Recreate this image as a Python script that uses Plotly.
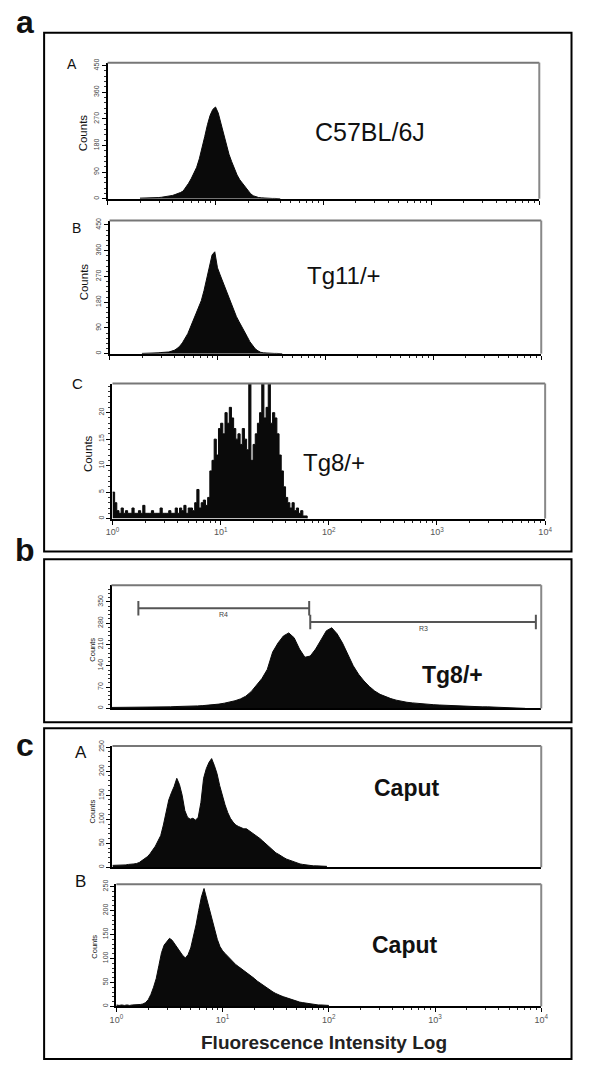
import numpy as np
import plotly.graph_objects as go

W, H = 600, 1066

# ---------------- data (log10 fluorescence bins, counts) ----------------
aA_start, aA_step = 0.3, 0.025
aA_counts = [2, 2, 3, 2, 3, 3, 4, 4, 5, 6, 7, 9, 11, 14, 17, 21, 26, 38, 52, 68,
             86, 106, 135, 168, 210, 250, 282, 302, 310, 290, 255, 215, 180, 150,
             125, 100, 80, 64, 52, 38, 26, 17, 10, 6, 4, 3, 2, 2, 1, 1, 1, 0, 0]

aB_start, aB_step = 0.3, 0.025
aB_counts = [1, 1, 2, 2, 2, 3, 3, 4, 4, 5, 6, 9, 12, 18, 26, 38, 52, 70, 93, 115,
             138, 160, 185, 220, 262, 305, 345, 356, 300, 275, 250, 232, 205, 180,
             155, 130, 112, 96, 78, 60, 42, 28, 17, 10, 5, 3, 2, 2, 1, 1, 1, 0, 0]

aC_start, aC_step = 0.0, 0.02
aC_counts = [5, 3, 1.5, 1, 2, 1, 1.5, 1, 1, 2, 1, 1, 1.5, 1, 2.5, 1, 1, 1, 1.5, 1,
             1, 1, 2, 1, 1, 1, 1.5, 1, 1, 2, 1, 2, 1.5, 2.5, 1, 2, 2, 1.5, 3, 5.5,
             2, 3, 3.5, 2.5, 4, 9, 11, 15, 12, 17, 18, 16, 20, 18, 21, 19, 17, 15, 16, 14,
             17, 15, 13, 27, 11, 14, 16, 18, 20, 27, 19, 21, 27, 18, 20, 19, 16, 12, 9, 6,
             4, 3, 2, 3, 1.5, 2, 1, 1.5, 0.5, 0.5, 0]

b_start, b_step = 0.0, 0.05
b_counts = [3, 3, 3, 3, 3, 4, 4, 4, 4, 5, 5, 5, 6, 6, 7, 7, 8, 9, 10, 12,
            14, 17, 20, 25, 31, 40, 55, 75, 98, 128, 185, 215, 238, 248, 232, 195, 168, 172, 195, 225,
            255, 265, 245, 215, 175, 140, 112, 90, 72, 57, 46, 38, 32, 27, 23, 20, 18, 16, 15, 13,
            12, 11, 10, 9, 9, 8, 7, 7, 6, 5, 5, 4, 4, 3, 3, 2, 1, 0]

gate_names = ["R4", "R3"]
gate_lo = [0.25, 1.85]
gate_hi = [1.84, 3.95]
gate_level = [329, 284]

cA_start, cA_step = 0.0, 0.025
cA_counts = [4, 4, 5, 4, 5, 5, 6, 6, 7, 8, 10, 14, 18, 22, 28, 35, 44, 55, 66, 88,
             118, 140, 155, 168, 185, 172, 150, 118, 104, 100, 102, 98, 104, 135, 185, 205, 218, 226, 212, 195,
             170, 148, 130, 114, 102, 94, 88, 85, 82, 80, 80, 76, 72, 68, 65, 60, 55, 50, 44, 38,
             33, 30, 27, 23, 20, 17, 15, 12, 10, 8, 7, 6, 5, 4, 4, 3, 3, 3, 2, 2, 2]

cB_start, cB_step = 0.0, 0.025
cB_counts = [3, 2, 3, 2, 3, 2, 3, 3, 3, 4, 5, 8, 14, 25, 40, 58, 85, 112, 128, 136,
             142, 138, 130, 122, 113, 106, 101, 108, 122, 145, 170, 200, 228, 246, 225, 198, 178, 160, 140, 125,
             116, 110, 104, 98, 92, 87, 83, 79, 75, 71, 67, 62, 58, 53, 49, 45, 41, 37, 34, 30,
             27, 24, 22, 20, 18, 16, 14, 12, 11, 9, 8, 7, 6, 5, 4, 4, 3, 3, 3, 2, 2]

decade_vals = [1, 10, 100, 1000, 10000]
decade_text = ["10<sup>0</sup>", "10<sup>1</sup>", "10<sup>2</sup>", "10<sup>3</sup>", "10<sup>4</sup>"]

# ---------------- layout helpers ----------------
FONT = "Liberation Sans, Arial, Helvetica, sans-serif"


def xd(x0, x1):
    return [x0 / W, x1 / W]


def yd(y0, y1):
    return [1 - y1 / H, 1 - y0 / H]


def px(x):
    return x / W


def py(y):
    return 1 - y / H


minor_x = [d * 10 ** k for k in range(4) for d in range(2, 10)]

panels = [
    dict(start=aA_start, step=aA_step, counts=aA_counts, box=(103, 545, 57, 194), yr=[0, 460],
         yt=[0, 90, 180, 270, 360, 450], ydt=18, xticks=True, xlabels=False, shape="linear"),
    dict(start=aB_start, step=aB_step, counts=aB_counts, box=(105, 547, 216, 350), yr=[0, 465],
         yt=[0, 90, 180, 270, 360, 450], ydt=18, xticks=True, xlabels=False, shape="linear"),
    dict(start=aC_start, step=aC_step, counts=aC_counts, box=(108, 551, 380, 516), yr=[0, 25.5],
         yt=[0, 5, 10, 15, 20], ydt=1, xticks=True, xlabels=True, shape="hv"),
    dict(start=b_start, step=b_step, counts=b_counts, box=(107, 547, 583, 707), yr=[0, 405],
         yt=[0, 70, 140, 210, 280, 350], ydt=14, xticks=False, xlabels=False, shape="linear"),
    dict(start=cA_start, step=cA_step, counts=cA_counts, box=(108, 547, 745, 867), yr=[0, 252],
         yt=[0, 50, 100, 150, 200, 250], ydt=10, xticks=False, xlabels=False, shape="linear"),
    dict(start=cB_start, step=cB_step, counts=cB_counts, box=(112, 547, 884, 1007), yr=[0, 255],
         yt=[0, 50, 100, 150, 200, 250], ydt=10, xticks=True, xlabels=True, shape="linear"),
]

fig = go.Figure()
shapes = []
layout = {}

for i, p in enumerate(panels, start=1):
    sfx = "" if i == 1 else str(i)
    x0, x1, y0, y1 = p["box"]
    logs = p["start"] + p["step"] * np.arange(len(p["counts"]))
    fig.add_trace(go.Scatter(
        x=10 ** logs, y=p["counts"], xaxis="x" + sfx, yaxis="y" + sfx,
        mode="lines", fill="tozeroy", fillcolor="#0a0a0a",
        line=dict(color="#0a0a0a", width=1, shape=p["shape"]),
        hoverinfo="skip", showlegend=False))
    xaxis = dict(
        type="log", range=[0, 4], domain=xd(x0, x1), anchor="y" + sfx,
        showline=True, linecolor="black", linewidth=2, mirror=False,
        showgrid=False, zeroline=False,
        ticks="outside" if p["xticks"] else "", ticklen=4, tickwidth=1, tickcolor="black",
        tickvals=decade_vals,
        showticklabels=p["xlabels"], tickfont=dict(size=9, color="#555", family=FONT),
        minor=dict(ticks="outside" if p["xticks"] else "", ticklen=2, tickcolor="#222",
                   tickvals=minor_x, showgrid=False),
    )
    if p["xlabels"]:
        xaxis["ticktext"] = decade_text
    layout["xaxis" + sfx] = xaxis
    layout["yaxis" + sfx] = dict(
        range=p["yr"], domain=yd(y0, y1), anchor="x" + sfx,
        showline=True, linecolor="black", linewidth=2, showgrid=False, zeroline=False,
        ticks="outside", ticklen=4, tickwidth=1, tickcolor="black",
        tickvals=p["yt"], tickangle=-90,
        tickfont=dict(size=7, color="#444", family=FONT),
        minor=dict(ticks="outside", ticklen=2, tickcolor="#333", dtick=p["ydt"], showgrid=False),
    )
    xr = "x" + sfx + " domain"
    yr = "y" + sfx + " domain"
    shapes.append(dict(type="line", xref=xr, yref=yr, x0=0, x1=1, y0=1, y1=1,
                       line=dict(color="#777", width=2)))
    shapes.append(dict(type="line", xref=xr, yref=yr, x0=1, x1=1, y0=0, y1=1,
                       line=dict(color="#888", width=2)))

# gates in panel b
CAP = 24
gx, gy = [], []
for lo, hi, lv in zip(gate_lo, gate_hi, gate_level):
    gx += [10 ** lo, 10 ** hi, None, 10 ** lo, 10 ** lo, None, 10 ** hi, 10 ** hi, None]
    gy += [lv, lv, None, lv - CAP, lv + CAP, None, lv - CAP, lv + CAP, None]
fig.add_trace(go.Scatter(x=gx, y=gy, xaxis="x4", yaxis="y4", mode="lines",
                         line=dict(color="#555", width=2), hoverinfo="skip", showlegend=False))

annotations = []
for name, lo, hi, lv in zip(gate_names, gate_lo, gate_hi, gate_level):
    annotations.append(dict(xref="x4", yref="y4", x=(lo + hi) / 2, y=lv - 22, text=name,
                            showarrow=False, font=dict(size=7, color="#444", family=FONT)))

# outer boxes
for (bx0, bx1, by0, by1) in [(38, 578, 27, 549), (38, 578, 557, 721), (38, 578, 727, 1060)]:
    shapes.append(dict(type="rect", xref="paper", yref="paper",
                       x0=px(bx0), x1=px(bx1), y0=py(by1), y1=py(by0),
                       line=dict(color="black", width=2)))


def text(x, y, s, size, bold=False, angle=0, color="#111"):
    annotations.append(dict(xref="paper", yref="paper", x=px(x), y=py(y),
                            text=("<b>%s</b>" % s) if bold else s, showarrow=False,
                            xanchor="center", yanchor="middle", textangle=angle,
                            font=dict(size=size, color=color, family=FONT)))


# figure letters
text(18, 16, "a", 32, bold=True)
text(18, 548, "b", 32, bold=True)
text(18, 744, "c", 32, bold=True)
# panel letters
text(67, 58, "A", 14)
text(71, 223, "B", 14)
text(72, 380, "C", 15)
text(76, 751, "A", 17)
text(75, 881, "B", 17)
# Counts titles
text(78, 128, "Counts", 11.5, angle=-90)
text(79, 278, "Counts", 11.5, angle=-90)
text(83, 451, "Counts", 11.5, angle=-90)
text(88, 648, "Counts", 7.5, angle=-90)
text(88, 811, "Counts", 7.5, angle=-90)
text(90, 947, "Counts", 7.5, angle=-90)
# sample names
text(372, 127, "C57BL/6J", 25)
text(345, 271, "Tg11/+", 24)
text(335, 460, "Tg8/+", 24)
text(456, 673, "Tg8/+", 23, bold=True)
text(410, 787, "Caput", 23, bold=True)
text(408, 945, "Caput", 23, bold=True)
text(325, 1043, "Fluorescence Intensity Log", 19, bold=True, color="#222")

fig.update_layout(width=W, height=H, margin=dict(l=0, r=0, t=0, b=0),
                  paper_bgcolor="white", plot_bgcolor="white",
                  shapes=shapes, annotations=annotations, **layout)

fig.write_html("out.html", config={"displayModeBar": False},
               post_script="document.body.style.margin='0';")
